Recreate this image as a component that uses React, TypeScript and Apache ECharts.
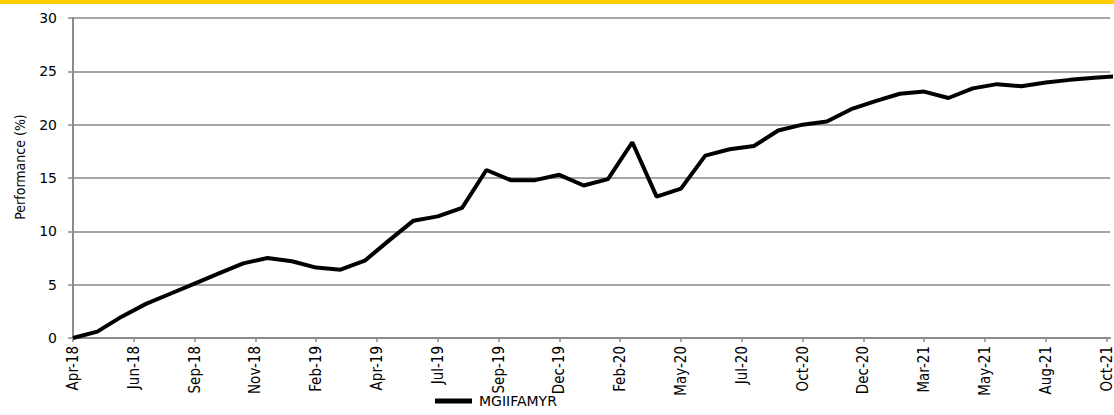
import React, { useEffect, useRef } from "react";
import * as echarts from "echarts";

// Monthly performance values (%), one per period starting at Apr-18
const performance: number[] = [
  0.0, 0.6, 2.0, 3.2, 4.15, 5.1, 6.05, 7.0, 7.5, 7.2,
  6.6, 6.4, 7.25, 9.15, 11.0, 11.4, 12.2, 15.75, 14.8, 14.8,
  15.3, 14.3, 14.9, 18.35, 13.25, 14.0, 17.1, 17.7, 18.0, 19.45,
  20.0, 20.3, 21.45, 22.2, 22.9, 23.1, 22.5, 23.4, 23.8, 23.6,
  23.95, 24.2, 24.4, 24.55,
];

const tickLabels: string[] = [
  "Apr-18", "Jun-18", "Sep-18", "Nov-18", "Feb-19", "Apr-19", "Jul-19", "Sep-19", "Dec-19",
  "Feb-20", "May-20", "Jul-20", "Oct-20", "Dec-20", "Mar-21", "May-21", "Aug-21", "Oct-21",
];

const seriesName = "MGIIFAMYR";
const yTicks = { min: 0, max: 30, step: 5 };
const labelStep = 2.5;
const xMax = 42.65;

export default function App() {
  const ref = useRef<HTMLDivElement>(null);

  useEffect(() => {
    if (!ref.current) return;
    const chart = echarts.init(ref.current, undefined, { renderer: "svg" });
    const narrow = "'Liberation Sans Narrow', 'DejaVu Sans Condensed', 'Arial Narrow', sans-serif";
    const wide = "'DejaVu Sans', Verdana, sans-serif";
    chart.setOption({
      animation: false,
      backgroundColor: "#ffffff",
      grid: { left: 73, right: 0, top: 18, bottom: 77 },
      graphic: [
        {
          type: "rect",
          left: 0,
          top: 0,
          shape: { x: 0, y: 0, width: 1114, height: 4 },
          style: { fill: "#FFCC00" },
        },
        {
          type: "text",
          x: 20,
          y: 167,
          rotation: Math.PI / 2,
          style: {
            text: "Performance (%)",
            font: `14px ${narrow}`,
            fill: "#000",
            textAlign: "center",
            textVerticalAlign: "middle",
          },
        },
      ],
      legend: {
        show: true,
        left: 435,
        top: 394,
        padding: 0,
        icon: "rect",
        itemWidth: 37,
        itemHeight: 5,
        data: [seriesName],
        textStyle: {
          fontFamily: wide,
          fontSize: 14,
          color: "#000",
          padding: [0, 0, 0, 2],
        },
      },
      xAxis: {
        type: "value",
        min: 0,
        max: xMax,
        interval: labelStep,
        splitLine: { show: false },
        axisLine: { show: true, lineStyle: { color: "#8c8c8c", width: 2 } },
        axisTick: { show: true, length: 4, lineStyle: { color: "#8c8c8c", width: 1.5 } },
        axisLabel: {
          rotate: 90,
          margin: 8,
          showMaxLabel: false,
          hideOverlap: false,
          fontFamily: narrow,
          fontSize: 15,
          color: "#000",
          padding: [7, 0, 0, 0],
          formatter: (v: number) => {
            const k = v / labelStep;
            if (Math.abs(k - Math.round(k)) > 1e-6) return "";
            return tickLabels[Math.round(k)] ?? "";
          },
        },
      },
      yAxis: {
        type: "value",
        min: yTicks.min,
        max: yTicks.max,
        interval: yTicks.step,
        axisLine: { show: true, lineStyle: { color: "#8c8c8c", width: 2 } },
        axisTick: { show: true, length: 5, lineStyle: { color: "#8c8c8c", width: 1.5 } },
        splitLine: { show: true, lineStyle: { color: "#a6a6a6", width: 2 } },
        axisLabel: { margin: 16, fontFamily: wide, fontSize: 14, color: "#000" },
      },
      series: [
        {
          name: seriesName,
          type: "line",
          data: performance.map((v, i) => [i, v]),
          showSymbol: false,
          symbol: "none",
          clip: true,
          lineStyle: { color: "#000", width: 4 },
          itemStyle: { color: "#000" },
        },
      ],
    });
    return () => chart.dispose();
  }, []);

  return (
    <div
      ref={ref}
      style={{ position: "absolute", left: 0, top: 0, width: 1114, height: 415 }}
    />
  );
}
